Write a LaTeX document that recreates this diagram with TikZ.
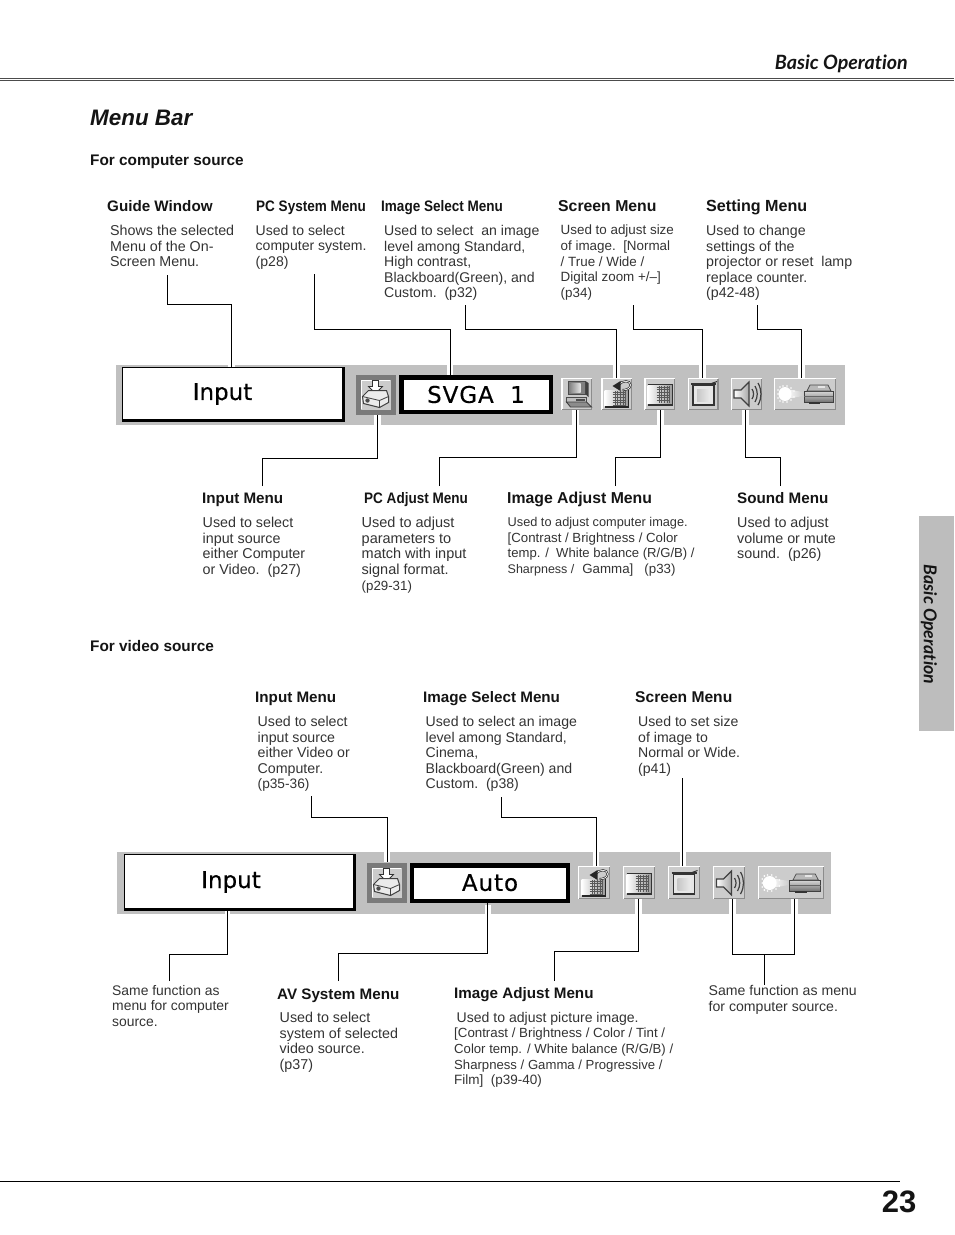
\documentclass[tikz,border=0pt]{standalone}
\usepackage{fontspec}
\setmainfont{Liberation Sans}
\newfontfamily\gillbi[Ligatures=NoCommon,ItalicFont={Lato Bold Italic}]{Lato}
\newfontfamily\condb[FakeStretch=0.89]{Liberation Sans Bold}
\newfontfamily\screenf[LetterSpace=4,FakeBold=0.35]{DejaVu Sans}
\newfontfamily\screenn[FakeBold=0.35]{DejaVu Sans}
\definecolor{bodyc}{HTML}{333333}
\definecolor{headc}{HTML}{141414}
\definecolor{barc}{HTML}{C0C0C0}
\definecolor{btnc}{HTML}{CCCCCC}
\definecolor{tabc}{HTML}{BDBDBD}
\newcommand\fz[1]{\fontsize{#1}{15.6}\selectfont}
\newcommand\bodyf{\fz{14.3}\color{bodyc}}
\newcommand\leader[6]{%
  \coordinate (#1s) at (#2,#3);
  \coordinate (#1b) at (#5,#4);
  \draw[conn] (#1s) |- (#1b) -- (#1b |- #6);}
\newcommand\btn[5]{%
  \node[btnbox,minimum width={#4-#2},minimum height={#5-#3}] (#1) at ({(#2+#4)/2},{(#3+#5)/2}) {};
  \draw[white,line width=1.2pt] (#2+.5,#5-.5) -- (#2+.5,#3+.5) -- (#4-.5,#3+.5);
  \draw[black!45,line width=1.2pt] (#4-.5,#3+.5) -- (#4-.5,#5-.5) -- (#2+.5,#5-.5);}
\newcommand\icoInput[2]{\begin{scope}[shift={(#1,#2)}]
  \fill[black!52] (0,0) rectangle (40,40);
  \fill[btnc] (5,5) rectangle (35,35);
  \draw[white,line width=1pt] (5.5,34.5) -- (5.5,5.5) -- (34.5,5.5);
  \draw[black!80,fill=white,line width=.8pt] (17,6) -- (23,6) -- (23,12) -- (27,12) -- (20,19) -- (13,12) -- (17,12) -- cycle;
  \draw[black!75,fill=black!8,line width=1pt] (7,22) -- (13,16) -- (31,16) -- (33,22) -- (33,28) -- (24,33) -- (8,29) -- cycle;
  \draw[black!75,line width=.8pt] (7,22) -- (24,26) -- (33,22) (24,26) -- (24,33);
  \fill[black!70] (12,26) circle (2.2);
\end{scope}}
\newcommand\icoPC[2]{\begin{scope}[shift={(#1,#2)}]
  \draw[black!70,fill=black!50,line width=1pt] (7,3) rectangle (24,16);
  \shade[left color=black!45,right color=black!10] (9,5) rectangle (19,14);
  \fill[black!75] (24,3) -- (27,5) -- (27,19) -- (24,16) -- cycle;
  \draw[black!70,fill=black!25,line width=.9pt] (5,19) rectangle (25,24);
  \fill[black!70] (14,21) rectangle (23,22.5);
  \draw[black!75,fill=black!45,line width=.9pt] (5,24) -- (25,24) -- (30,29) -- (9,29) -- cycle;
\end{scope}}
\newcommand\gridpat[4]{%
  \shade[left color=white,right color=black!40] (#1,#2) rectangle (#3,#4);
  \foreach \gx in {0,2.6,...,13} {\draw[black!65,line width=.55pt] ({#3-3-\gx},{#2+1}) -- ({#3-3-\gx},{#4-1});}
  \foreach \gy in {2,4.6,...,17} {\draw[black!65,line width=.55pt] ({#3-16},{#2+\gy}) -- ({#3-3},{#2+\gy});}}
\newcommand\icoAdjSel[2]{\begin{scope}[shift={(#1,#2)}]
  \gridpat{3}{12}{27}{28}
  \fill[black!85] (3,27.5) rectangle (27,29.5);
  \draw[black!85,line width=1.2pt] (27,12) -- (27,29);
  \draw[black!85,line width=2pt] (17,7) .. controls (21,2) and (29,2) .. (29,7) .. controls (29,11) and (24,12) .. (21,12);
  \draw[white,line width=.7pt] (17,7) .. controls (21,2) and (29,2) .. (29,7) .. controls (29,11) and (24,12) .. (21,12);
  \fill[black!85] (11,8) -- (19,3) -- (19,13) -- cycle;
\end{scope}}
\newcommand\icoAdj[2]{\begin{scope}[shift={(#1,#2)}]
  \gridpat{3}{7}{28}{26}
  \draw[black!80,line width=1.4pt] (3,6.5) -- (28,6.5) -- (28,27) -- (3,27);
\end{scope}}
\newcommand\icoScreen[2]{\begin{scope}[shift={(#1,#2)}]
  \draw[black!80,line width=1.4pt,fill=white!50!btnc] (5,7) rectangle (26,27);
  \shade[left color=black!22,right color=black!8] (9,11) rectangle (22,23);
  \draw[black!80,line width=1.4pt] (3,6) -- (28,6);
  \draw[black!80,line width=1pt] (22,6) -- (29,3.5);
\end{scope}}
\newcommand\icoSound[2]{\begin{scope}[shift={(#1,#2)}]
  \draw[black!75,left color=white,right color=black!35,line width=1.2pt] (3,12) -- (10,12) -- (18,4) -- (18,28) -- (10,20) -- (3,20) -- cycle;
  \draw[black!75,line width=1.2pt] (21,11) .. controls (23,14) and (23,18) .. (21,21);
  \draw[black!75,line width=1.2pt] (24,8) .. controls (27,13) and (27,19) .. (24,24);
  \draw[black!75,line width=1.2pt] (27,5) .. controls (31,12) and (31,20) .. (27,27);
\end{scope}}
\newcommand\icoLamp[3]{\begin{scope}[shift={(#1,#2)},xscale=#3]
  \shade[left color=white,right color=btnc] (12,11) -- (29,14) -- (29,18) -- (12,21) -- cycle;
  \fill[white] (11,16) ellipse (6.5 and 7);
  \foreach \px/\py in {4/12,4/16,4/20,6/9,6/23,9/8,9/24,13/8,13/24,17/10,17/22,20/13,20/19} {\fill[white] (\px,\py) circle (.9);}
  \draw[black!75,line width=1pt,top color=black!15,bottom color=black!55] (30,13) -- (59,13) -- (59,24) -- (30,24) -- cycle;
  \draw[black!60,line width=.6pt] (30,18) -- (59,18);
  \draw[black!70,fill=black!28,line width=.7pt] (33,13) -- (36,7) -- (54,7) -- (57,13) -- cycle;
  \fill[black!10] (44,8) rectangle (51,10);
  \fill[black!80] (35,24) rectangle (46,26);
\end{scope}}
\newcommand\notch[4]{\fill[white] (#1,#2) rectangle (#3,#4);}
\newcommand\shadowbox[1]{\draw[black,line width=2.2pt,line cap=rect] ([shift={(-.4,.6)}]#1.north east) -- ([shift={(-.4,-.4)}]#1.south east) -- ([shift={(.6,-.4)}]#1.south west);}
\tikzset{
  conn/.style={black,line width=1pt},
  body/.style={anchor=north west,inner sep=0pt,align=left,yshift=10pt,font=\bodyf,
     execute at begin node={\rule{0pt}{11pt}}},
  bs/.style={font=\fz{#1}\color{bodyc}},
  head/.style={anchor=base west,inner sep=0pt,font=\fontsize{15.2}{18}\selectfont\bfseries,text=headc},
  hs/.style={font=\fontsize{#1}{18}\selectfont\bfseries},
  chead/.style={anchor=base west,inner sep=0pt,font=\fontsize{15.2}{18}\selectfont\condb,text=headc},
  sect/.style={anchor=base west,inner sep=0pt,font=\fontsize{15.35}{18}\selectfont\bfseries,text=headc},
  scrbox/.style={fill=white,draw=black,inner sep=0pt,line width=1.4pt,font=\fontsize{23}{26}\selectfont\screenn},
  valbox/.style={fill=white,draw=black,inner sep=0pt,line width=4.5pt,font=\fontsize{23}{26}\selectfont\screenf},
  btnbox/.style={fill=btnc,draw=none,inner sep=0pt,outer sep=0pt},
  framebox/.style={fill=none,draw=none,inner sep=0pt,outer sep=0pt,minimum width=40pt,minimum height=40pt},
}
\begin{document}
\begin{tikzpicture}[x=1pt,y=-1pt]
\useasboundingbox (0,0) rectangle (954,1235);
% header and footer
\draw[black!70,line width=1pt] (0,78.4) -- (954,78.4);
\draw[black!70,line width=1pt] (0,80.7) -- (954,80.7);
\node[anchor=base east,inner sep=0pt,font=\fontsize{19.7}{22}\selectfont\gillbi\itshape,text=headc] (hdr) at (908,69) {Basic Operation};
\node[anchor=base west,inner sep=0pt,font=\fontsize{22.4}{26}\selectfont\bfseries\itshape,text=headc] (title) at (90,125) {Menu Bar};
\draw[black,line width=1.2pt] (0,1181.3) -- (900,1181.3);
\node[anchor=base east,inner sep=0pt,font=\fontsize{31}{34}\selectfont\bfseries,text=headc] (pageno) at (916.5,1212.5) {23};
\fill[tabc] (919,516) rectangle (954,731);
\node[rotate=-90,inner sep=0pt,font=\fontsize{17.7}{19}\selectfont\gillbi\itshape,text=headc] (tabtxt) at (929,624.5) {Basic Operation};
% section titles
\node[sect] (sec1) at (90,165) {For computer source};
\node[sect] (sec2) at (90,651) {For video source};
% computer bar
\fill[barc] (116,365) rectangle (845,425);
\notch{228}{365}{234.5}{367}\notch{446.7}{365}{453.3}{375}\notch{613}{365}{619.5}{380}\notch{699}{365}{705.5}{378}\notch{798}{365}{804.5}{378}
\notch{374}{414}{380.5}{425}\notch{572}{410}{579}{425}\notch{657}{410}{664}{425}\notch{742}{410}{749}{425}
\node[scrbox,minimum width=220.5pt,minimum height=52.5pt] (inA) at (233,394) {\hspace{-21pt}\raisebox{-4pt}{Input}};
\shadowbox{inA}
\node[framebox] (iconA) at (375.5,394.5) {};
\icoInput{355.5}{374.5}
\node[valbox,minimum width=149.5pt,minimum height=34.5pt] (svga) at (476,394.5) {SVGA\ \ 1};
\btn{pcA}{561.5}{378}{592}{410}\icoPC{561.5}{378}
\btn{selA}{601.5}{378}{632}{410}\icoAdjSel{601.5}{378}
\btn{adjA}{644.5}{378}{675}{410}\icoAdj{644.5}{378}
\btn{scrA}{688}{378}{718.5}{410}\icoScreen{688}{378}
\btn{sndA}{731}{378}{762}{410}\icoSound{731}{378}
\btn{lampA}{774}{378}{836}{410}\icoLamp{774}{378}{1}
% video bar
\fill[barc] (117,852) rectangle (831,914);
\notch{225}{910}{229.5}{914}\notch{484.5}{905}{491}{914}\notch{634.5}{899}{641.5}{914}\notch{728.5}{899}{735.5}{914}\notch{791}{899}{798}{914}
\notch{384}{852}{390}{862}\notch{593}{852}{599}{866}\notch{679.5}{852}{685.5}{866}
\node[scrbox,minimum width=229.5pt,minimum height=54.5pt] (inB) at (239.5,882) {\hspace{-17pt}\raisebox{-1pt}{Input}};
\shadowbox{inB}
\node[framebox,minimum width=41pt,minimum height=41pt] (iconB) at (386.5,882.5) {};
\icoInput{366.5}{862.5}
\node[valbox,minimum width=156pt,minimum height=35.5pt] (auto) at (490,883) {\raisebox{1pt}{Auto}};
\btn{selB}{578}{866}{610}{899}\icoAdjSel{578.5}{867}
\btn{adjB}{623}{866}{655}{899}\icoAdj{623.5}{867}
\btn{scrB}{668}{866}{700}{899}\icoScreen{668.5}{867}
\btn{sndB}{713}{866}{745}{899}\icoSound{713.5}{867}
\btn{lampB}{758}{866}{824}{899}\icoLamp{758}{867}{1.06}
% computer connectors
\leader{a}{167}{275}{304}{231}{inA.north}
\leader{b}{314.5}{274}{329}{450}{svga.north}
\leader{c}{465.5}{305}{329}{616}{selA.north}
\leader{d}{633}{305}{329}{702}{scrA.north}
\leader{e}{757.5}{305}{329}{801}{lampA.north}
\leader{f}{262.5}{486}{458}{377}{iconA.south}
\leader{g}{439.5}{486}{457}{576}{pcA.south}
\leader{h}{615.5}{486}{457}{660.5}{adjA.south}
\leader{i}{780.5}{486}{457}{745.5}{sndA.south}
% video connectors
\leader{j}{311.5}{796}{817.5}{387}{iconB.north}
\leader{k}{501.5}{797}{817.5}{596}{selB.north}
\coordinate (ls) at (682.5,778);
\draw[conn] (ls) -- (ls |- scrB.north);
\leader{m}{169.5}{981}{954}{227}{inB.south}
\leader{n}{338}{981}{953}{487.5}{auto.south}
\leader{o}{554}{981}{951}{638.5}{adjB.south}
\coordinate (pl) at (732.5,954);
\coordinate (pr) at (794.5,954);
\coordinate (pm) at (764.5,954);
\coordinate (pe) at (764.5,985);
\draw[conn] (pl |- sndB.south) -- (pl) -- (pr) -- (pr |- lampB.south);
\draw[conn] (pm) -- (pe);
% computer headings and texts
\node[head] (t1) at (107,211) {Guide Window};
\node[chead] (t2) at (256,211) {PC System Menu};
\node[chead] (t3) at (381,211) {Image Select Menu};
\node[head,hs=15.8] (t4) at (558,211) {Screen Menu};
\node[head,hs=16.1] (t5) at (706,211) {Setting Menu};
\node[body] (b1) at (110,235) {Shows the selected\\Menu of the On-\\Screen Menu.};
\node[body,bs=14.05] (b2) at (255.5,235) {Used to select\\computer system.\\(p28)};
\node[body,bs=14.1] (b3) at (384,235) {Used to select\ \ an image\\level among Standard,\\High contrast,\\Blackboard(Green), and\\Custom.\ \ (p32)};
\node[body,bs=13.4] (b4) at (560.5,235) {Used to adjust size\\of image.\ \ [Normal\\/ True / Wide /\\Digital zoom +/--]\\(p34)};
\node[body,bs=14.2] (b5) at (706,235) {Used to change\\settings of the\\projector or reset\ \ lamp\\replace counter.\\(p42-48)};
\node[head] (t6) at (202,503) {Input Menu};
\node[chead] (t7) at (364,503) {PC Adjust Menu};
\node[head,hs=15.8] (t8) at (507,503) {Image Adjust Menu};
\node[head] (t9) at (737,503) {Sound Menu};
\node[body] (b6) at (202.5,527) {Used to select\\input source\\either Computer\\or Video.\ \ (p27)};
\node[body,bs=14.5] (b7) at (361.5,527) {Used to adjust\\parameters to\\match with input\\signal format.\\{\fz{13.3}(p29-31)}};
\node[body] (b8) at (507.5,527) {{\fz{12.75}Used to adjust computer image.}\\{\fz{13.25}[Contrast / Brightness / Color}\\{\fz{13.1}temp. /\ \ White balance (R/G/B) /}\\{\fz{12.5}Sharpness /}\ \ {\fz{13.3}Gamma]\ \ \ (p33)}};
\node[body] (b9) at (737,527) {Used to adjust\\volume or mute\\sound.\ \ (p26)};
% video headings and texts
\node[head] (t10) at (255,702) {Input Menu};
\node[head] (t11) at (423,702) {Image Select Menu};
\node[head,hs=15.6] (t12) at (635,702) {Screen Menu};
\node[body,bs=14.2] (b10) at (257.5,726) {Used to select\\input source\\either Video or\\Computer.\\{\fz{13.7}(p35-36)}};
\node[body,bs=14.1] (b11) at (425.5,726) {Used to select an image\\level among Standard,\\Cinema,\\Blackboard(Green) and\\Custom.\ \ (p38)};
\node[body,bs=14.1] (b12) at (638,726) {Used to set size\\of image to\\Normal or Wide.\\(p41)};
\node[body,bs=13.9] (b13) at (112,995) {Same function as\\menu for computer\\source.};
\node[head] (t13) at (277,999) {AV System Menu};
\node[body] (b14) at (279.5,1022) {Used to select\\system of selected\\video source.\\(p37)};
\node[head] (t14) at (454,998) {Image Adjust Menu};
\node[body,bs=14.05] (b15) at (454,1022) {\hspace{2.5pt}Used to adjust picture image.\\{\fz{13.3}[Contrast / Brightness / Color / Tint /}\\{\fz{13.15}Color temp. / White balance (R/G/B) /}\\{\fz{13.15}Sharpness / Gamma / Progressive /}\\{\fz{13.5}Film]\ \ (p39-40)}};
\node[body,bs=14.1] (b16) at (708.5,995) {Same function as menu\\for computer source.};
\end{tikzpicture}
\end{document}
